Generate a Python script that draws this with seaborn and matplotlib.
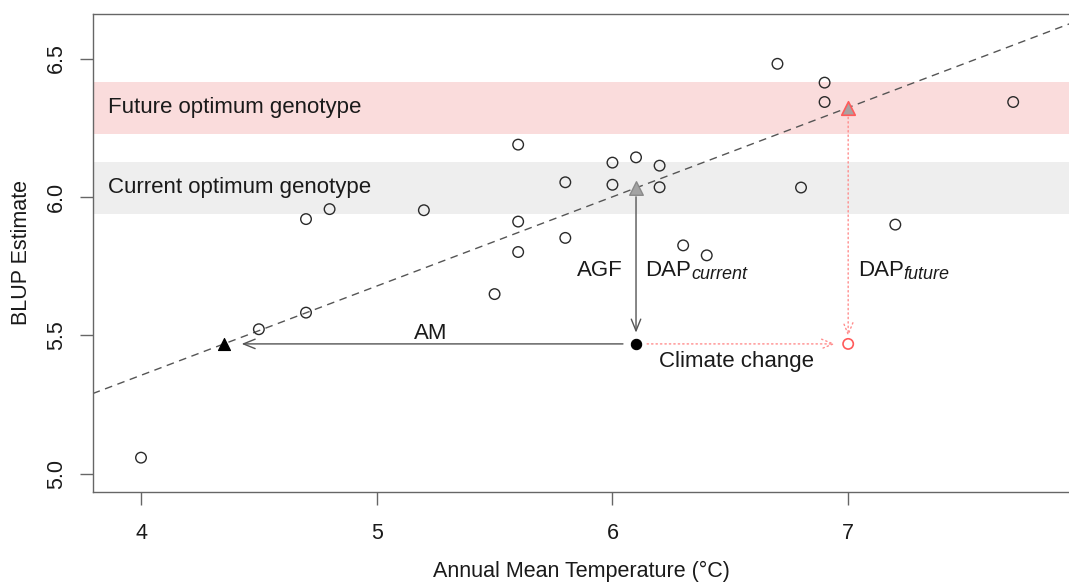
import matplotlib
matplotlib.use("Agg")
import matplotlib.pyplot as plt
import seaborn as sns
import pandas as pd

# Provenance means: annual mean temperature (°C) and BLUP estimate
temperature = [4.0, 4.5, 4.7, 4.7, 4.8, 5.2, 5.5, 5.6, 5.6, 5.6, 5.8, 5.8,
               6.0, 6.0, 6.1, 6.2, 6.2, 6.3, 6.4, 6.7, 6.8, 6.9, 6.9, 7.2, 7.7]
blup = [5.058, 5.522, 5.582, 5.920, 5.956, 5.952, 5.649, 6.189, 5.911, 5.801,
        6.053, 5.852, 6.124, 6.044, 6.143, 6.113, 6.035, 5.825, 5.789, 6.481,
        6.034, 6.413, 6.343, 5.900, 6.343]

# Linear fit of BLUP on temperature
fit_intercept = 4.066
fit_slope = 0.3224

# Focal population and scenario values
temp_current = 6.1
temp_future = 7.0
temp_am = 4.352
pop_blup = 5.469
opt_current = 6.033
opt_future = 6.323
band_half = 0.094

x_ticks = [4, 5, 6, 7]
y_ticks = [5.0, 5.5, 6.0, 6.5]
x_label = "Annual Mean Temperature (°C)"
y_label = "BLUP Estimate"

sns.set_theme(style="white")
plt.rcParams["font.family"] = ["Liberation Sans", "DejaVu Sans"]

fig = plt.figure(figsize=(10.69, 5.83), dpi=100)
ax = fig.add_axes([0.0867, 0.1566, 0.9140, 0.8194])
ax.set_xlim(3.795, 7.94)
ax.set_ylim(4.935, 6.661)

TXT = "#1a1a1a"
AX_GREY = "#666666"
ARROW_GREY = "#555555"
RED = "#ff5a5a"
RED_LIGHT = "#ff8c8c"

# Optimum bands
ax.axhspan(opt_future - band_half, opt_future + band_half, color="#fadcdc", lw=0, zorder=0)
ax.axhspan(opt_current - band_half, opt_current + band_half, color="#eeeeee", lw=0, zorder=0)

# Regression line
ax.axline((0, fit_intercept), slope=fit_slope, color="#555555", lw=1.0,
          linestyle=(0, (5.5, 4.0)), zorder=2)

# Provenance points
df = pd.DataFrame({"temperature": temperature, "blup": blup})
sns.scatterplot(data=df, x="temperature", y="blup", ax=ax, marker="o", s=58,
                facecolor="none", edgecolor="#2a2a2a", linewidth=1.0, zorder=3)

# Arrows
def arrow(x0, y0, x1, y1, color, ls, sa, sb):
    ax.annotate("", xy=(x1, y1), xytext=(x0, y0),
                arrowprops=dict(arrowstyle="->, head_length=0.42, head_width=0.17",
                                mutation_scale=20, color=color, lw=1.0,
                                linestyle=ls, shrinkA=sa, shrinkB=sb),
                zorder=2)

arrow(temp_current, opt_current, temp_current, pop_blup, ARROW_GREY, "-", 6.5, 8.1)
arrow(temp_current, pop_blup, temp_am, pop_blup, ARROW_GREY, "-", 9.4, 12.7)
arrow(temp_current, pop_blup, temp_future, pop_blup, RED_LIGHT, (0, (1, 2.2)), 8.0, 9.4)
arrow(temp_future, opt_future, temp_future, pop_blup, RED_LIGHT, (0, (1, 2.2)), 3.8, 5.5)

# Special markers
sns.scatterplot(x=[temp_current], y=[opt_current], ax=ax, marker="^", s=95,
                color="#a3a3a3", edgecolor="#8a8a8a", linewidth=1.0, zorder=4)
sns.scatterplot(x=[temp_future], y=[opt_future], ax=ax, marker="^", s=95,
                color="#aaa0a0", edgecolor=RED, linewidth=1.2, zorder=4)
sns.scatterplot(x=[temp_am], y=[pop_blup], ax=ax, marker="^", s=75,
                color="black", edgecolor="black", linewidth=0.8, zorder=4)
sns.scatterplot(x=[temp_current], y=[pop_blup], ax=ax, marker="o", s=55,
                color="black", edgecolor="black", linewidth=0.8, zorder=4)
sns.scatterplot(x=[temp_future], y=[pop_blup], ax=ax, marker="o", s=55,
                facecolor="none", edgecolor=RED, linewidth=1.2, zorder=4)

# Annotations
FS = 16
ax.text(3.859, 6.3025, "Future optimum genotype", fontsize=FS, color=TXT,
        ha="left", va="baseline")
ax.text(3.859, 6.0155, "Current optimum genotype", fontsize=FS, color=TXT,
        ha="left", va="baseline")
ax.text(6.044, 5.7156, "AGF", fontsize=FS, color=TXT, ha="right", va="baseline")
ax.text(6.140, 5.7156, "DAP", fontsize=FS, color=TXT, ha="left", va="baseline")
ax.annotate("current", xy=(6.140, 5.7156), xytext=(32.8, -2.4),
            textcoords="offset points", fontsize=13, style="italic", color=TXT,
            ha="left", va="baseline")
ax.text(7.042, 5.7156, "DAP", fontsize=FS, color=TXT, ha="left", va="baseline")
ax.annotate("future", xy=(7.042, 5.7156), xytext=(32.8, -2.4),
            textcoords="offset points", fontsize=13, style="italic", color=TXT,
            ha="left", va="baseline")
ax.text(5.229, 5.4868, "AM", fontsize=FS, color=TXT, ha="center", va="baseline")
ax.text(6.527, 5.3845, "Climate change", fontsize=FS, color=TXT,
        ha="center", va="baseline")

# Axes styling
ax.set_xticks(x_ticks)
ax.set_xticklabels([str(t) for t in x_ticks])
ax.set_yticks(y_ticks)
ax.set_yticklabels([f"{t:.1f}" for t in y_ticks])
ax.tick_params(axis="both", which="major", direction="out", length=9.6, width=1.0,
               color=AX_GREY, labelsize=15.5, labelcolor=TXT,
               bottom=True, left=True, top=False, right=False)
ax.tick_params(axis="x", pad=13)
ax.tick_params(axis="y", pad=8.7, labelrotation=90)
for lab in ax.get_yticklabels():
    lab.set_va("center")

for side in ["left", "bottom", "top"]:
    ax.spines[side].set_visible(True)
    ax.spines[side].set_color(AX_GREY)
    ax.spines[side].set_linewidth(1.0)
ax.spines["right"].set_visible(False)

ax.set_xlabel(x_label, fontsize=15.5, color=TXT)
ax.set_ylabel(y_label, fontsize=15.5, color=TXT)
ax.xaxis.set_label_coords(0.5, -0.145)
ax.yaxis.set_label_coords(-0.0622, 0.5)

fig.savefig("out.png", dpi=100)
